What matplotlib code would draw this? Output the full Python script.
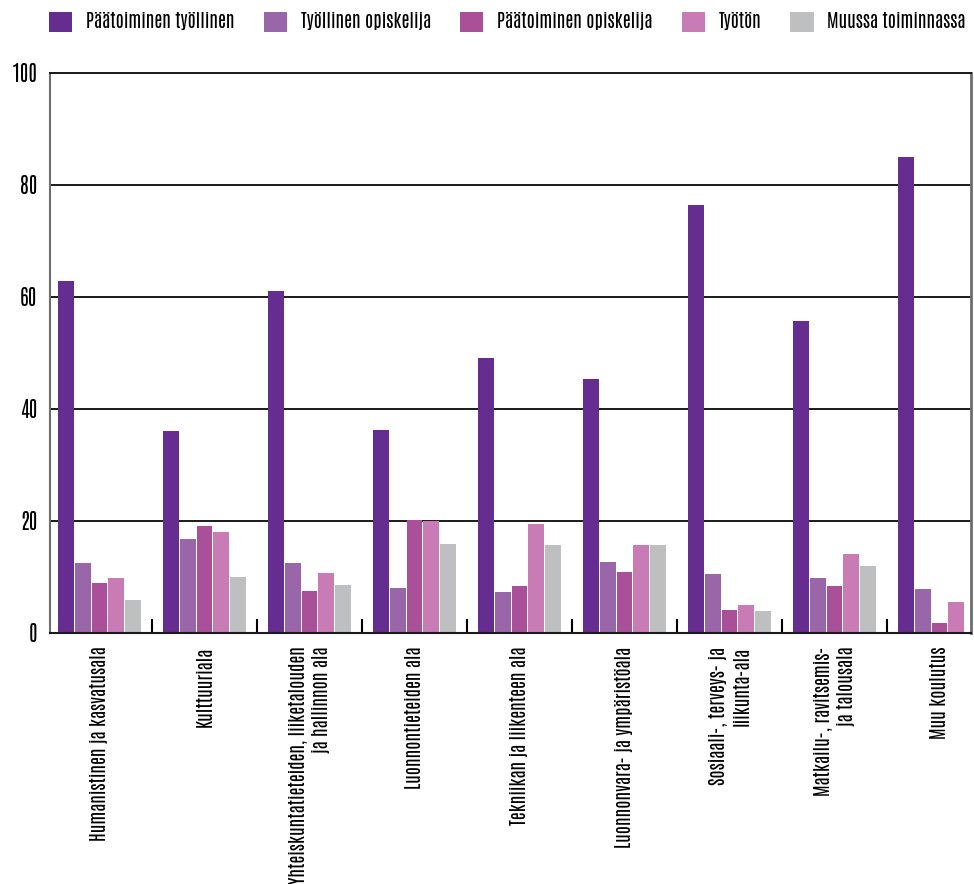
import numpy as np
import matplotlib
matplotlib.use("Agg")
import matplotlib.pyplot as plt
from matplotlib.patches import Patch

plt.rcParams['font.family'] = ['Antonio', 'Fira Sans Extra Condensed',
                               'Barlow Condensed', 'DejaVu Sans']

categories = [
    "Humanistinen ja kasvatusala",
    "Kulttuuriala",
    "Yhteiskuntatieteiden, liiketalouden\nja hallinnon ala",
    "Luonnontieteiden ala",
    "Tekniikan ja liikenteen ala",
    "Luonnonvara- ja ympäristöala",
    "Sosiaali-, terveys- ja\nliikunta-ala",
    "Matkailu-, ravitsemis-\nja talousala",
    "Muu koulutus",
]
series_names = ["Päätoiminen työllinen", "Työllinen opiskelija",
                "Päätoiminen opiskelija", "Työtön", "Muussa toiminnassa"]
paatoiminen_tyollinen = [62.8, 36.0, 61.0, 36.2, 49.1, 45.3, 76.3, 55.6, 84.9]
tyollinen_opiskelija = [12.5, 16.8, 12.5, 7.9, 7.2, 12.7, 10.4, 9.8, 7.8]
paatoiminen_opiskelija = [8.9, 19.1, 7.5, 20.2, 8.4, 10.9, 4.1, 8.4, 1.7]
tyoton = [9.8, 17.9, 10.6, 19.9, 19.5, 15.6, 5.0, 14.1, 5.5]
muussa_toiminnassa = [5.9, 10.0, 8.6, 15.9, 15.7, 15.6, 3.9, 12.0, np.nan]
yticks = [0, 20, 40, 60, 80, 100]

series = [paatoiminen_tyollinen, tyollinen_opiskelija, paatoiminen_opiskelija,
          tyoton, muussa_toiminnassa]
colors = ["#662d91", "#9966aa", "#aa5099", "#c87bb4", "#bebfc1"]

fig = plt.figure(figsize=(9.74, 8.84), dpi=100)
ax = fig.add_axes([50/974, 1-632.7/884, (971-50)/974, (632.7-72.7)/884])

x = np.arange(len(categories))
slot = 0.159
for k, (vals, c) in enumerate(zip(series, colors)):
    ax.bar(x + (k - 2) * slot, vals, width=slot * 0.95, color=c, zorder=3,
           linewidth=0)

ax.set_ylim(0, 100)
ax.set_xlim(-0.471, 8.3)
ax.set_yticks(yticks)
ax.set_yticklabels([str(v) for v in yticks], fontsize=15)
ax.tick_params(axis='y', length=0, pad=9)
for v in yticks[1:]:
    ax.axhline(v, color="#1a1a1a", lw=1.4, zorder=2)

ax.set_xticks(x)
ax.set_xticklabels(categories, rotation=90, va='top', ha='center',
                   multialignment='right', fontsize=13.2, linespacing=1.3)
ax.tick_params(axis='x', which='major', length=0, pad=10)
ax.set_xticks(np.arange(0.5, len(categories) - 1, 1.0), minor=True)
ax.tick_params(axis='x', which='minor', direction='in', length=10, width=1.5,
               color='black')

ax.spines['left'].set_color('#6d6d6d')
ax.spines['left'].set_linewidth(1.5)
ax.spines['right'].set_color('#6d6d6d')
ax.spines['right'].set_linewidth(2)
ax.spines['top'].set_color('#1a1a1a')
ax.spines['top'].set_linewidth(1.4)
ax.spines['bottom'].set_color('#1a1a1a')
ax.spines['bottom'].set_linewidth(1.5)
ax.spines['bottom'].set_zorder(4)

handles = [Patch(facecolor=c, edgecolor='none') for c in colors]
fig.legend(handles, series_names, loc='upper left',
           bbox_to_anchor=(49/974, 1-12/884), ncol=5, frameon=False,
           fontsize=13.2, handlelength=1.26, handleheight=1.26,
           handletextpad=0.75, columnspacing=1.6, borderaxespad=0,
           borderpad=0)

fig.savefig("out.png", dpi=100)
